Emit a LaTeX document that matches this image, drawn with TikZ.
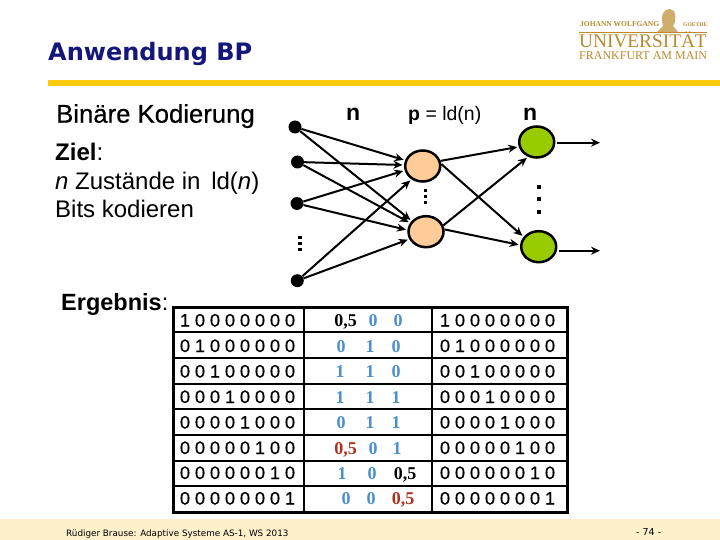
\documentclass[tikz,border=0pt]{standalone}
\usepackage{fontspec}
\setmainfont{Liberation Sans}
\newfontfamily\serifgold{Liberation Serif}
\newfontfamily\foot{DejaVu Sans}
\newfontfamily\titlefont{DejaVu Sans}
\newfontfamily\digfont[RawFeature={embolden=0.7}]{Liberation Sans}
\newfontfamily\headfont[RawFeature={embolden=0.5}]{Liberation Sans}
\usetikzlibrary{arrows.meta,shapes.geometric}
\definecolor{navy}{HTML}{14167A}
\definecolor{barcol}{HTML}{FFCC11}
\definecolor{footbg}{HTML}{FFF0CC}
\definecolor{hid}{HTML}{FFCC99}
\definecolor{outc}{HTML}{99CC00}
\definecolor{gold}{HTML}{B98A2E}
\definecolor{bl}{HTML}{4A90D0}
\definecolor{rd}{HTML}{B03020}
\tikzset{
 txt/.style={inner sep=0pt,anchor=base west,black},
 inp/.style={circle,fill=black,inner sep=0pt,minimum size=13pt},
 hidn/.style={ellipse,draw=black,line width=2.5pt,fill=hid,minimum width=35pt,minimum height=31pt,inner sep=0pt},
 outn/.style={ellipse,draw=black,line width=2.5pt,fill=outc,minimum width=35pt,minimum height=31pt,inner sep=0pt},
 conn/.style={line width=2pt,-{Stealth[length=9pt,width=8pt]},black,shorten >=1.5pt},
 cell/.style={inner sep=0pt,anchor=base,black,font=\fontsize{18}{18}\selectfont\digfont},
 mid/.style={inner sep=0pt,anchor=base,font=\fontsize{18}{18}\selectfont\bfseries\serifgold},
 grid/.style={line width=3pt,black},
}
\begin{document}
\begin{tikzpicture}[x=1pt,y=-1pt]
\useasboundingbox (0,0) rectangle (720,540);
\fill[white] (0,0) rectangle (720,540);
\fill[footbg] (0,519) rectangle (720,540);
\fill[barcol] (48,80) rectangle (720,86);
\node[txt,font=\fontsize{24}{24}\selectfont\bfseries\titlefont] (title) at (48,60.5) {\textcolor{navy}{Anwendung BP}};
\node[txt,font=\fontsize{25.7}{25.7}\selectfont\headfont] (bin) at (56,122.7) {Binäre Kodierung};
\node[txt,font=\fontsize{24}{24}\selectfont] (z1) at (55,161) {\textbf{Ziel}:};
\node[txt,font=\fontsize{24}{24}\selectfont] (z2) at (55,189.3) {\textit{n} Zustände in\, ld(\textit{n})};
\node[txt,font=\fontsize{24}{24}\selectfont] (z3) at (55,217.3) {Bits kodieren};
\node[txt,font=\fontsize{23.5}{23.5}\selectfont] (erg) at (61,310) {\textbf{Ergebnis}:};
\node[txt,font=\fontsize{23}{23}\selectfont\bfseries] (n1) at (346,121) {n};
\node[txt,font=\fontsize{19.5}{19.5}\selectfont] (p) at (408,121) {\textbf{p} = ld(n)};
\node[txt,font=\fontsize{23}{23}\selectfont\bfseries] (n2) at (523,121) {n};
% network
\node[inp] (i1) at (295,127) {};
\node[inp] (i2) at (297.5,162) {};
\node[inp] (i3) at (297,203.5) {};
\node[inp] (i4) at (297.3,280.7) {};
\node[hidn] (h1) at (422.7,166) {};
\node[hidn] (h2) at (426,231.7) {};
\node[outn] (o1) at (536.7,142) {};
\node[outn] (o2) at (538.7,246.7) {};
\coordinate (e1) at (600,142.7);
\coordinate (e2) at (600,250.7);
\draw[conn] (i1) -- (h1.162);
\draw[conn] (i2) -- (h1.177);
\draw[conn] (i3) -- (h1.194);
\draw[conn] (i4) -- (h1.230);
\draw[conn] (i1) -- (h2.143);
\draw[conn] (i2) -- (h2.151);
\draw[conn] (i3) -- (h2.175);
\draw[conn] (i4) -- (h2.204);
\draw[conn] (h1.16) -- (o1.195);
\draw[conn] (h1.6) -- (o2.147);
\draw[conn] (h2.20) -- (o1.240);
\draw[conn] (h2.7) -- (o2.175);
\draw[conn,shorten >=0pt] (o1.east |- e1) ++(2,0) -- (e1);
\draw[conn,shorten >=0pt] (o2.east |- e2) ++(2,0) -- (e2);
% ellipsis dots
\foreach \y in {189,195,201} \fill (423.5,\y) rectangle +(3,2.6);
\foreach \y in {236,242,248} \fill (298,\y) rectangle +(4,3);
\foreach \y in {185,197,210} \fill (537,\y) rectangle +(4,4);
% table
\draw[grid] (173,307.7) rectangle (567,512);
\foreach \y in {332,358,384,409,435,461,486} \draw[line width=2pt] (173,\y) -- (567,\y);
\draw[line width=2.5pt] (304,307.7) -- (304,512);
\draw[line width=2.5pt] (432,307.7) -- (432,512);
\foreach \yy/\a/\b/\c/\d/\e/\f/\g/\h in {
 326.5/1/0/0/0/0/0/0/0,
 352/0/1/0/0/0/0/0/0,
 377.5/0/0/1/0/0/0/0/0,
 403/0/0/0/1/0/0/0/0,
 428.5/0/0/0/0/1/0/0/0,
 454/0/0/0/0/0/1/0/0,
 479/0/0/0/0/0/0/1/0,
 504.5/0/0/0/0/0/0/0/1}{
  \foreach \xo in {0,260}{
   \foreach \v [count=\k from 0] in {\a,\b,\c,\d,\e,\f,\g,\h}{
     \node[cell] (d\k) at ({185+\xo+\k*15},\yy) {\v};
   }
  }
}
% middle column
\node[mid,text=black] (m1) at (345.5,326.5) {0,5};
\node[mid,text=bl] at (373,326.5) {0};
\node[mid,text=bl] at (398,326.5) {0};
\node[mid,text=bl] at (341,352) {0};
\node[mid,text=bl] at (370,352) {1};
\node[mid,text=bl] at (396,352) {0};
\node[mid,text=bl] at (340,377.5) {1};
\node[mid,text=bl] at (370,377.5) {1};
\node[mid,text=bl] at (396,377.5) {0};
\node[mid,text=bl] at (340,403) {1};
\node[mid,text=bl] at (370,403) {1};
\node[mid,text=bl] at (396,403) {1};
\node[mid,text=bl] at (341,428.5) {0};
\node[mid,text=bl] at (370,428.5) {1};
\node[mid,text=bl] at (396,428.5) {1};
\node[mid,text=rd] at (345.5,454) {0,5};
\node[mid,text=bl] at (373,454) {0};
\node[mid,text=bl] at (397,454) {1};
\node[mid,text=bl] at (342,479) {1};
\node[mid,text=bl] at (372,479) {0};
\node[mid,text=black] at (405,479) {0,5};
\node[mid,text=bl] at (346,504.5) {0};
\node[mid,text=bl] at (371,504.5) {0};
\node[mid,text=rd] at (403,504.5) {0,5};
% footer
\node[txt,font=\fontsize{8.8}{8.8}\selectfont\foot] (f1) at (66,536) {Rüdiger Brause: Adaptive Systeme AS-1, WS 2013};
\node[txt,font=\fontsize{9.5}{9.5}\selectfont\foot] (f2) at (636,535) {- 74 -};
% logo
\node[txt,font=\fontsize{7.5}{7.5}\selectfont\bfseries\serifgold] (l1) at (580,27) {\textcolor{gold}{JOHANN WOLFGANG}};
\node[txt,font=\fontsize{5.6}{5.6}\selectfont\bfseries\serifgold] (l2) at (683,27) {\textcolor{gold}{GOETHE}};
\fill[gold!70] (657,32) -- (663,26) .. controls (660,14) and (664,9) .. (670,9) .. controls (676,9) and (677,20) .. (673,26) -- (678,32) -- cycle;
\draw[gold,line width=1pt] (579,33) -- (707,33);
\node[txt,font=\fontsize{19.3}{19.3}\selectfont\serifgold] (l3) at (579,47.7) {\textcolor{gold}{UNIVERSITÄT}};
\node[txt,font=\fontsize{12}{12}\selectfont\serifgold] (l4) at (579,60) {\textcolor{gold}{FRANKFURT AM MAIN}};
\end{tikzpicture}
\end{document}
